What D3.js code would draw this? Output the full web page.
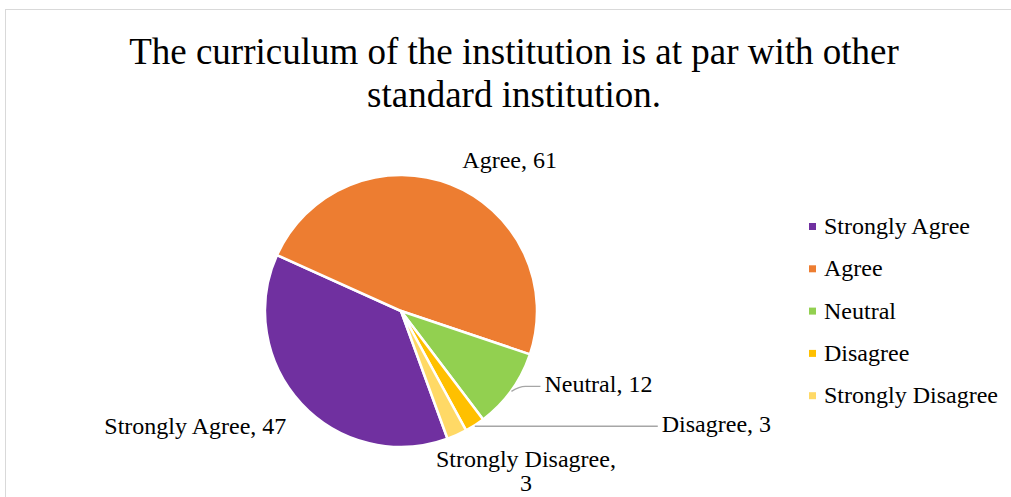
<!DOCTYPE html>
<html><head><meta charset="utf-8">
<script src="https://cdn.jsdelivr.net/npm/d3@7"></script>
<style>body{margin:0;background:#fff}svg{display:block}</style>
</head><body><svg id="c" width="1011" height="497" font-family="Liberation Serif"></svg>
<script>
const categories = ["Strongly Agree","Agree","Neutral","Disagree","Strongly Disagree"];
const values = [47,61,12,3,3];
const colors = ["#7030A0","#ED7D31","#92D050","#FFC000","#FFD966"];
const titleLines = ["The curriculum of the institution is at par with other","standard institution."];
const FONT = "Liberation Serif";

const svg = d3.select("#c");
svg.append("rect").attr("x",5.5).attr("y",9.5).attr("width",1020).attr("height",500)
  .attr("fill","#fff").attr("stroke","#d9d9d9").attr("stroke-width",1);

svg.append("g").selectAll("text").data(titleLines).join("text")
  .attr("x",514).attr("y",(d,i)=>64+i*43).attr("text-anchor","middle")
  .attr("font-family",FONT).attr("font-size",37).attr("fill","#000").text(d=>d);

const cx=401, cy=311, r=136;
const data = categories.map((c,i)=>({cat:c,value:values[i],color:colors[i]}));
const pie = d3.pie().value(d=>d.value).sort(null)
  .startAngle(160*Math.PI/180).endAngle(160*Math.PI/180+2*Math.PI);
const arcs = pie(data);
const arc = d3.arc().innerRadius(0).outerRadius(r);
const g = svg.append("g").attr("transform",`translate(${cx},${cy})`);
g.selectAll("path").data(arcs).join("path").attr("d",arc)
  .attr("fill",d=>d.data.color).attr("stroke","#fff").attr("stroke-width",2.5).attr("stroke-linejoin","round");

// label placement (offsets relative to slice edge at mid-angle)
const labelCfg = [
  {dx:-15, dy:30, anchor:"end", leader:false},
  {dx:59, dy:-16, anchor:"middle", leader:false},
  {dx:33, dy:2, anchor:"start", leader:true},
  {dx:187, dy:7, anchor:"start", leader:true},
  {dx:69, dy:32, anchor:"middle", leader:false, wrap:true}
];
const lab = svg.append("g");
arcs.forEach((a,i)=>{
  const m=(a.startAngle+a.endAngle)/2;
  const ex=cx+r*Math.sin(m), ey=cy-r*Math.cos(m);
  const c=labelCfg[i];
  const lx=ex+c.dx, ly=ey+c.dy;
  if(c.leader){
    lab.append("path").attr("d",`M${ex},${ey+1}Q${ex+8},${ly-6} ${ex+14},${ly-6}L${lx-4},${ly-6}`)
      .attr("fill","none").attr("stroke","#a6a6a6").attr("stroke-width",1.3);
  }
  const t=lab.append("text").attr("x",lx).attr("y",ly).attr("text-anchor",c.anchor)
    .attr("font-family",FONT).attr("font-size",24).attr("fill","#000");
  if(c.wrap){
    t.append("tspan").attr("x",lx).text(a.data.cat+",");
    t.append("tspan").attr("x",lx).attr("dy",24).text(a.data.value);
  } else t.text(a.data.cat+", "+a.data.value);
});

const leg = svg.append("g");
categories.forEach((c,i)=>{
  const y=226+i*42.3;
  leg.append("rect").attr("x",809).attr("y",y-3).attr("width",7).attr("height",7).attr("fill",colors[i]);
  leg.append("text").attr("x",824).attr("y",y+8).attr("font-family",FONT).attr("font-size",24).attr("fill","#000").text(c);
});
</script></body></html>
